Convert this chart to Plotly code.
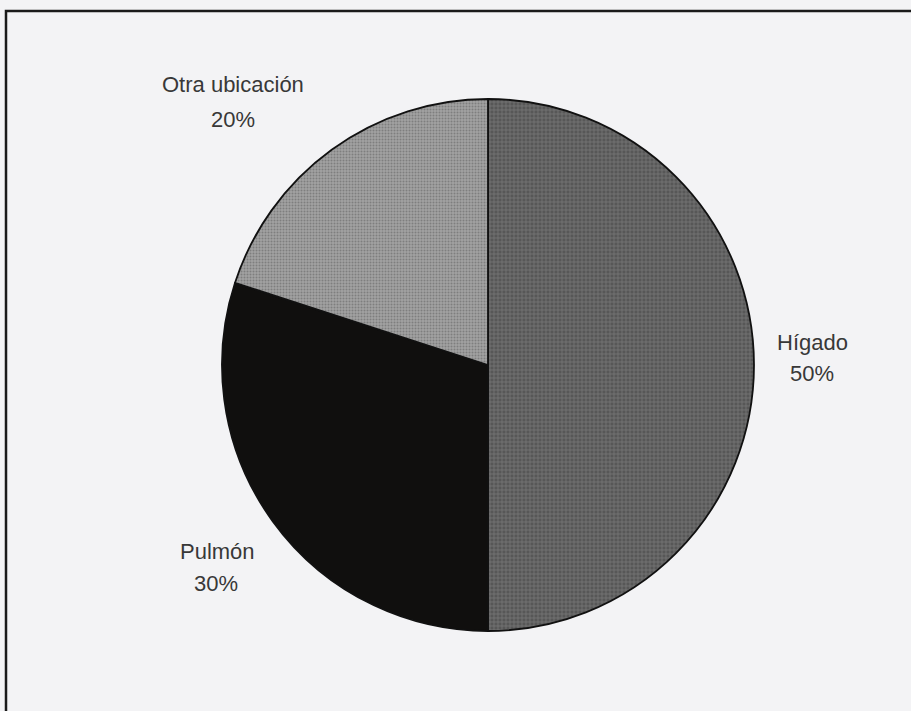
import plotly.graph_objects as go

labels = ["Hígado", "Pulmón", "Otra ubicación"]
values = [50, 30, 20]
percent_text = ["50%", "30%", "20%"]

W, H = 911, 711
cx, cy, R = 488, 365, 266

fig = go.Figure(go.Pie(
    labels=labels,
    values=values,
    sort=False,
    direction="clockwise",
    rotation=0,
    textinfo="none",
    hoverinfo="label+percent",
    showlegend=False,
    marker=dict(
        colors=["#5c5c5c", "#100f0e", "#9c9c9c"],
        line=dict(color="#111111", width=1.8),
        pattern=dict(
            shape=["+", "", "."],
            fgcolor=["#767676", "#100f0e", "#7e7e7e"],
            bgcolor=["#575757", "#100f0e", "#a2a2a2"],
            size=[4, 4, 3],
            solidity=[0.35, 0.3, 0.35],
        ),
    ),
    domain=dict(x=[(cx - R) / W, (cx + R) / W], y=[1 - (cy + R) / H, 1 - (cy - R) / H]),
))

# label positions (pixel centres of name line and percent line)
label_pos = {
    "Hígado": ((812, 343), (812, 373)),
    "Pulmón": ((217, 551), (216, 583)),
    "Otra ubicación": ((233, 85), (233, 119)),
}
annotations = []
for lab, pct in zip(labels, percent_text):
    (x1, y1), (x2, y2) = label_pos[lab]
    for txt, (x, y) in ((lab, (x1, y1)), (pct, (x2, y2))):
        annotations.append(dict(
            x=x / W, y=1 - y / H, xref="paper", yref="paper",
            text=txt, showarrow=False, xanchor="center", yanchor="middle",
            font=dict(family="Liberation Sans, Arial, sans-serif", size=22, color="#383838"),
        ))

fig.update_layout(
    width=W, height=H,
    margin=dict(l=0, r=0, t=0, b=0),
    paper_bgcolor="#f3f3f5",
    plot_bgcolor="#f3f3f5",
    annotations=annotations,
    shapes=[dict(
        type="rect", xref="paper", yref="paper",
        x0=6 / W, x1=(W + 20) / W, y0=-20 / H, y1=1 - 11 / H,
        line=dict(color="#1a1a1a", width=2.5), fillcolor="rgba(0,0,0,0)",
        layer="below",
    )],
)

fig.write_html(
    "out.html",
    config={"displayModeBar": False},
    post_script="document.body.style.margin='0';document.body.style.overflow='hidden';document.body.style.background='#f3f3f5';",
)
